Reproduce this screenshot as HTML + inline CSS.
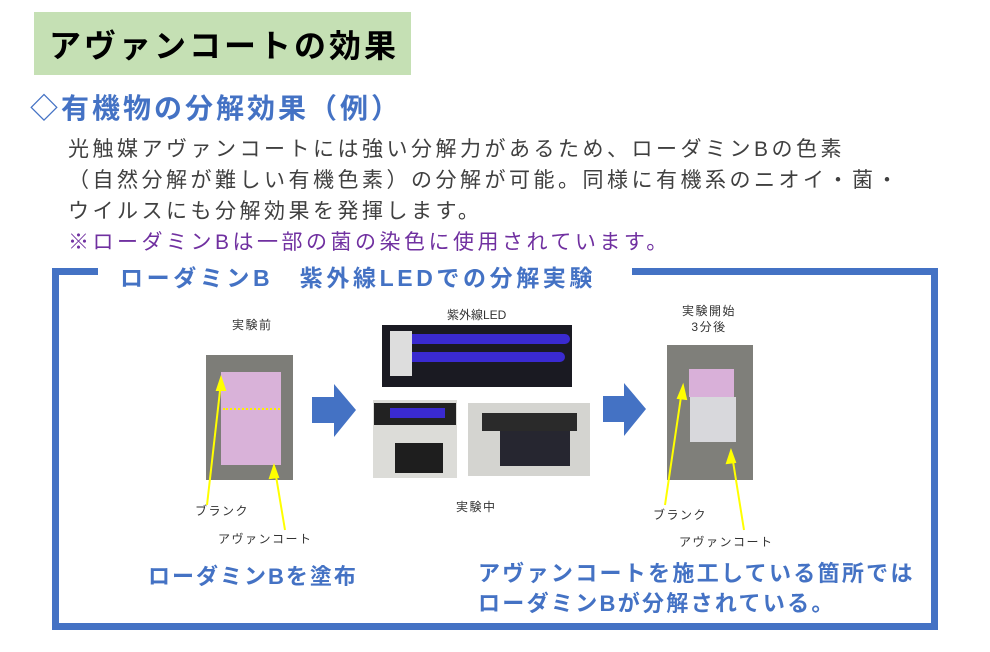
<!DOCTYPE html>
<html><head><meta charset="utf-8"><style>
body{margin:0;width:990px;height:652px;background:#fff;position:relative;overflow:hidden;font-family:"Liberation Sans","Noto Sans CJK JP",sans-serif}
.a{position:absolute;white-space:nowrap}
.s{font-size:12px;color:#333;letter-spacing:1.5px}
</style></head><body>
<div class="a" style="left:34px;top:12px;width:377px;height:63px;background:#c5e0b4"></div>
<div class="a" style="left:49px;top:21px;font-size:32px;letter-spacing:3px;font-weight:bold;color:#000">アヴァンコートの効果</div>
<div class="a" style="left:30px;top:87px;font-size:28px;letter-spacing:3px;font-weight:bold;color:#4472c4">◇有機物の分解効果（例）</div>
<div class="a" style="left:68px;top:134px;font-size:21px;letter-spacing:3.5px;line-height:31px;color:#404040">光触媒アヴァンコートには強い分解力があるため、ローダミンBの色素<br>（自然分解が難しい有機色素）の分解が可能。同様に有機系のニオイ・菌・<br>ウイルスにも分解効果を発揮します。<br><span style="color:#7030a0">※ローダミンBは一部の菌の染色に使用されています。</span></div>
<div class="a" style="left:52px;top:268px;width:872px;height:348px;border:7px solid #4472c4"></div>
<div class="a" style="left:98px;top:262px;width:534px;height:16px;background:#fff"></div>
<div class="a" style="left:120px;top:259px;font-size:23px;letter-spacing:3.6px;font-weight:bold;color:#4472c4">ローダミンB　紫外線LEDでの分解実験</div>

<div class="a s" style="left:232px;top:316px">実験前</div>
<div class="a" style="left:206px;top:355px;width:87px;height:125px;background:#7d7d78"></div>
<div class="a" style="left:221px;top:372px;width:60px;height:93px;background:#d9b2d9"></div>
<div class="a" style="left:223px;top:408px;width:57px;border-top:2px dotted #ffee00"></div>
<div class="a s" style="left:447px;top:306px;letter-spacing:0">紫外線LED</div>
<div class="a" style="left:382px;top:325px;width:190px;height:62px;background:#1a1a22"></div>
<div class="a" style="left:400px;top:334px;width:170px;height:10px;background:#3a2ad0;border-radius:5px"></div>
<div class="a" style="left:400px;top:352px;width:165px;height:10px;background:#3a2ad0;border-radius:5px"></div>
<div class="a" style="left:390px;top:331px;width:22px;height:45px;background:#ddd"></div>
<div class="a" style="left:373px;top:400px;width:84px;height:78px;background:#dcdcd8"></div>
<div class="a" style="left:374px;top:403px;width:82px;height:22px;background:#222"></div>
<div class="a" style="left:390px;top:408px;width:55px;height:10px;background:#3a2ad0"></div>
<div class="a" style="left:395px;top:443px;width:48px;height:30px;background:#1e1e1e"></div>
<div class="a" style="left:468px;top:403px;width:122px;height:73px;background:#d4d4d0"></div>
<div class="a" style="left:482px;top:413px;width:95px;height:18px;background:#2a2a2a"></div>
<div class="a" style="left:500px;top:431px;width:70px;height:35px;background:#262630"></div>
<div class="a s" style="left:456px;top:498px">実験中</div>

<div class="a s" style="left:682px;top:303px;line-height:16px;text-align:center">実験開始<br>3分後</div>
<div class="a" style="left:667px;top:345px;width:86px;height:135px;background:#7f7f7a"></div>
<div class="a" style="left:689px;top:369px;width:45px;height:28px;background:#d9b0d9"></div>
<div class="a" style="left:690px;top:397px;width:46px;height:45px;background:#d8d8dc"></div>
<div class="a s" style="left:195px;top:502px">ブランク</div>
<div class="a s" style="left:218px;top:530px">アヴァンコート</div>
<div class="a s" style="left:653px;top:506px">ブランク</div>
<div class="a s" style="left:679px;top:533px">アヴァンコート</div>
<svg class="a" style="left:0;top:0" width="990" height="652">
<g stroke="#ffff00" stroke-width="2" fill="#ffff00">
<line x1="207" y1="505" x2="221" y2="382"/><polygon points="221,378 217,390 225,390"/>
<line x1="285" y1="530" x2="275" y2="470"/><polygon points="274,466 270,478 278,477"/>
<line x1="665" y1="505" x2="682" y2="390"/><polygon points="683,386 678,398 686,399"/>
<line x1="744" y1="530" x2="732" y2="455"/><polygon points="731,451 727,463 735,462"/>
</g>
<polygon points="312,397 334,397 334,384 356,410 334,437 334,423 312,423" fill="#4472c4"/>
<polygon points="603,396 624,396 624,383 646,409 624,436 624,422 603,422" fill="#4472c4"/>
</svg>

<div class="a" style="left:148px;top:559px;font-size:22px;letter-spacing:2px;font-weight:bold;color:#4472c4">ローダミンBを塗布</div>
<div class="a" style="left:478px;top:559px;font-size:22px;letter-spacing:2.3px;line-height:30px;font-weight:bold;color:#4472c4">アヴァンコートを施工している箇所では<br>ローダミンBが分解されている。</div>
</body></html>
